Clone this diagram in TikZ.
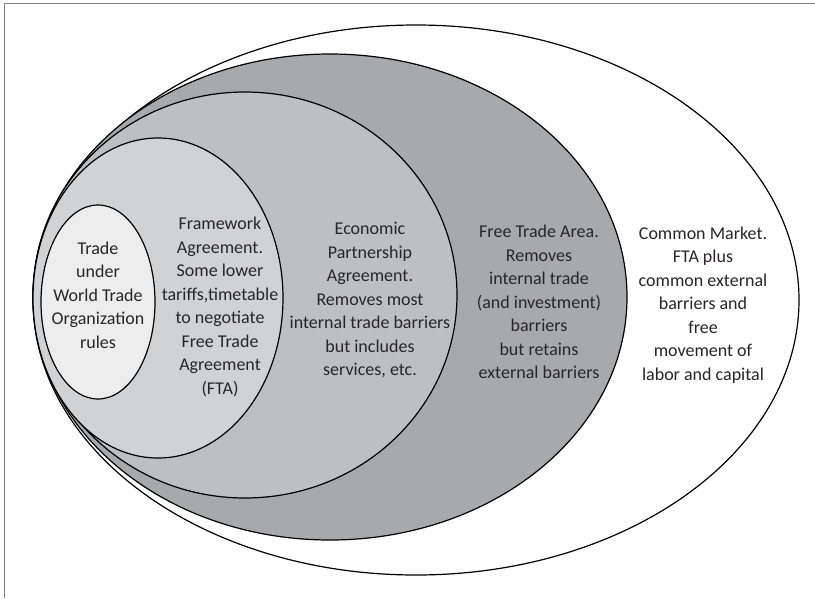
\documentclass[tikz,border=0pt]{standalone}
\usepackage{fontspec}
\setmainfont{Carlito}
\definecolor{gA}{RGB}{168,169,173}
\definecolor{gB}{RGB}{190,191,195}
\definecolor{gC}{RGB}{209,210,212}
\definecolor{gD}{RGB}{237,237,237}
\definecolor{txt}{RGB}{40,38,40}
\definecolor{framec}{RGB}{130,130,130}
\begin{document}
\begin{tikzpicture}[x=1pt,y=-1pt,
  ring/.style={draw=black, line width=1.2pt},
  lbl/.style={align=center, font=\fontsize{18}{23.5}\selectfont, text=txt, inner sep=0pt}]
\useasboundingbox (0,0) rectangle (815,598);
\draw[framec, line width=0.8pt] (4,598) -- (4,3) -- (815,3);
\draw[ring, fill=white] (416,300) ellipse [x radius=383, y radius=275];
\draw[ring, fill=gA] (330,297) ellipse [x radius=297, y radius=243];
\draw[ring, fill=gB] (245,295) ellipse [x radius=212, y radius=203];
\draw[ring, fill=gC] (158,298) ellipse [x radius=125, y radius=160];
\draw[ring, fill=gD] (98,302) ellipse [x radius=57, y radius=97];
\node[lbl] (wto) at (98,295) {Trade\\under\\World Trade\\Organization\\rules};
\node[lbl] (fw) at (220,307) {Framework\\Agreement.\\Some lower\\tariffs,timetable\\to negotiate\\Free Trade\\Agreement\\(FTA)};
\node[lbl] (epa) at (370,300) {Economic\\Partnership\\Agreement.\\Removes most\\internal trade barriers\\but includes\\services, etc.};
\node[lbl] (fta) at (539,302) {Free Trade Area.\\Removes\\internal trade\\(and investment)\\barriers\\but retains\\external barriers};
\node[lbl] (cm) at (703,305) {Common Market.\\FTA plus\\common external\\barriers and\\free\\movement of\\labor and capital};
\end{tikzpicture}
\end{document}
